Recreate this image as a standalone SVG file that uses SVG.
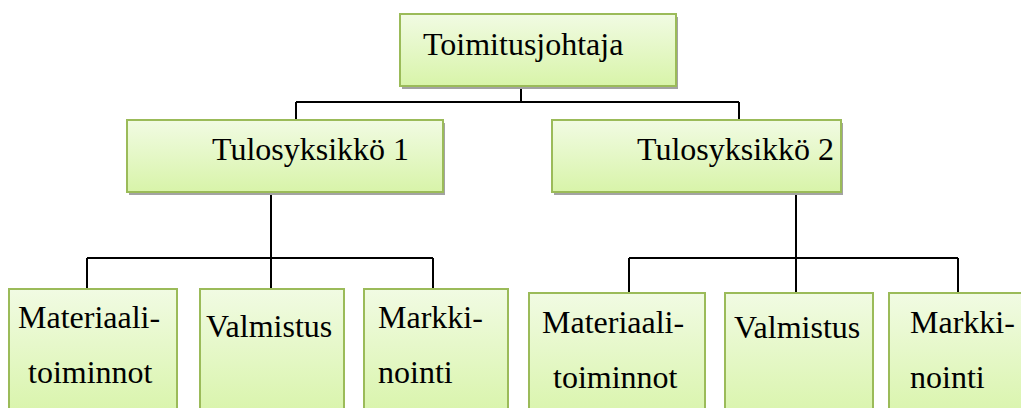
<svg xmlns="http://www.w3.org/2000/svg" width="1021" height="408" viewBox="0 0 1021 408">
<defs>
<linearGradient id="g" x1="0" y1="0" x2="0" y2="1">
<stop offset="0" stop-color="#f1fbe3"/>
<stop offset="1" stop-color="#d8f4a9"/>
</linearGradient>
</defs>
<style>
.box{fill:url(#g);stroke:#9bbb59;stroke-width:2}
.sh{fill:#a3a3a3}
.t{font-size:32px;fill:#000}
.c{fill:none;stroke:#000;stroke-width:2}
</style>
<rect width="1021" height="408" fill="#fff"/>
<g id="connectors">
<path class="c" d="M521 88V102M296 102H739M296 102V120M739 102V120"/>
<path class="c" d="M271 194V258M87 258H433M87 258V289M271 258V289M433 258V289"/>
<path class="c" d="M796 194V258M629 258H958M629 258V293M796 258V293M958 258V293"/>
</g>
<g id="n-toimitusjohtaja">
<rect class="sh" x="402" y="17" width="276" height="72"/>
<rect class="box" x="400" y="14" width="276" height="72"/>
<text class="t" x="423" y="55" font-family="Liberation Serif">Toimitusjohtaja</text>
</g>
<g id="n-tulosyksikko1">
<rect class="sh" x="129" y="123" width="316" height="72"/>
<rect class="box" x="127" y="120" width="316" height="72"/>
<text class="t" x="212" y="160" font-family="Times New Roman">Tulosyksikkö 1</text>
</g>
<g id="n-tulosyksikko2">
<rect class="sh" x="554" y="123" width="289" height="72"/>
<rect class="box" x="552" y="120" width="289" height="72"/>
<text class="t" x="637" y="160" font-family="Times New Roman">Tulosyksikkö 2</text>
</g>
<g id="n-materiaali1">
<rect class="box" x="9" y="289" width="168" height="130"/>
<text class="t" x="18" y="328" font-family="Liberation Serif">Materiaali-</text>
<text class="t" x="28" y="383" font-family="Liberation Serif">toiminnot</text>
</g>
<g id="n-valmistus1">
<rect class="box" x="200" y="289" width="144" height="130"/>
<text class="t" x="206" y="337" font-family="Times New Roman">Valmistus</text>
</g>
<g id="n-markkinointi1">
<rect class="box" x="364" y="289" width="144" height="130"/>
<text class="t" x="378" y="328" font-family="Liberation Serif">Markki-</text>
<text class="t" x="378" y="383" font-family="Liberation Serif">nointi</text>
</g>
<g id="n-materiaali2">
<rect class="box" x="529" y="293" width="176" height="130"/>
<text class="t" x="542" y="333" font-family="Times New Roman">Materiaali-</text>
<text class="t" x="553" y="388" font-family="Times New Roman">toiminnot</text>
</g>
<g id="n-valmistus2">
<rect class="box" x="725" y="293" width="148" height="130"/>
<text class="t" x="734" y="338" font-family="Liberation Serif">Valmistus</text>
</g>
<g id="n-markkinointi2">
<rect class="box" x="889" y="293" width="140" height="130"/>
<text class="t" x="910" y="333" font-family="Times New Roman">Markki-</text>
<text class="t" x="910" y="388" font-family="Times New Roman">nointi</text>
</g>
</svg>
